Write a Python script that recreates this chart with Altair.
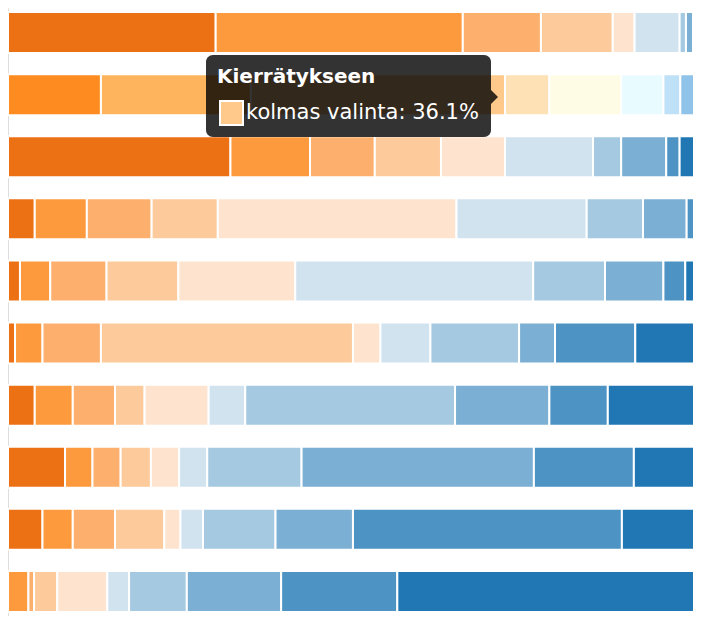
import altair as alt
import pandas as pd

# Row labels (top to bottom); only the hovered row's label is visible in the picture
rows = ["Vaihtoehto 1", "Kierrätykseen", "Vaihtoehto 3", "Vaihtoehto 4", "Vaihtoehto 5",
        "Vaihtoehto 6", "Vaihtoehto 7", "Vaihtoehto 8", "Vaihtoehto 9", "Vaihtoehto 10"]

choices = ["ensimmäinen valinta", "toinen valinta", "kolmas valinta", "neljäs valinta",
           "viides valinta", "kuudes valinta", "seitsemäs valinta", "kahdeksas valinta",
           "yhdeksäs valinta", "kymmenes valinta"]

# share (%) of each choice, per row
row_1 = [29.5, 35.1, 11.1, 10.2, 3.1, 6.4, 0.9, 1.0, 2.0, 0.7]
row_2 = [13.2, 21.3, 36.1, 6.3, 10.2, 6.0, 2.4, 2.0, 0.6, 1.9]
row_3 = [31.6, 11.3, 9.2, 9.4, 9.1, 12.5, 4.0, 6.4, 1.9, 4.6]
row_4 = [3.8, 7.4, 9.2, 9.4, 33.9, 18.5, 8.0, 6.2, 3.0, 0.6]
row_5 = [1.7, 4.3, 8.0, 10.2, 16.6, 33.8, 10.2, 8.3, 3.1, 3.8]
row_6 = [1.0, 3.9, 8.3, 35.8, 3.9, 7.1, 12.6, 5.1, 11.4, 10.9]
row_7 = [3.8, 5.4, 6.0, 4.2, 9.1, 5.2, 29.8, 13.4, 8.3, 14.8]
row_8 = [8.1, 3.9, 4.0, 4.3, 4.0, 4.0, 13.4, 33.0, 14.2, 11.1]
row_9 = [4.9, 4.3, 6.0, 7.0, 2.3, 3.2, 10.3, 11.0, 38.2, 12.8]
row_10 = [0.0, 2.9, 0.8, 3.3, 7.1, 3.1, 8.2, 13.4, 16.5, 44.7]

palette = ["#ec7014", "#fd9a3d", "#fdb06e", "#fdca9b", "#fee4cf",
           "#d2e3f0", "#a6c9e2", "#7bafd3", "#4d93c4", "#2077b4"]
hover_palette = ["#fd8b20", "#fdb45c", "#fec98a", "#fee1b5", "#fffce5",
                 "#e8fbff", "#bfe1f7", "#8fc3e9", "#5fa5da", "#2b80c6"]

hovered_row = "Kierrätykseen"
hovered_choice = "kolmas valinta"
HOVER_SUFFIX = " (aktiivinen)"

all_rows = [row_1, row_2, row_3, row_4, row_5, row_6, row_7, row_8, row_9, row_10]
records = []
for r, vals in zip(rows, all_rows):
    for i, (c, v) in enumerate(zip(choices, vals)):
        if v <= 0:
            continue
        key = c + HOVER_SUFFIX if r == hovered_row else c
        records.append({"rivi": r, "valinta": c, "jarjestys": i, "osuus": v, "vari": key})
df = pd.DataFrame(records)

color_domain = choices + [c + HOVER_SUFFIX for c in choices]
color_range = palette + hover_palette

W, H = 685, 608

bars = alt.Chart(df).mark_bar(stroke="white", strokeWidth=2, clip=True).encode(
    x=alt.X("osuus:Q", stack="zero",
            scale=alt.Scale(domain=[0, 97.3], nice=False, zero=True), axis=None),
    y=alt.Y("rivi:N", sort=rows,
            scale=alt.Scale(paddingInner=0.34, paddingOuter=0.065),
            axis=alt.Axis(labels=False, ticks=False, title=None, grid=False,
                          domainColor="#dddddd")),
    color=alt.Color("vari:N", scale=alt.Scale(domain=color_domain, range=color_range),
                    legend=None),
    order=alt.Order("jarjestys:Q"),
)

# tooltip annotation for the hovered segment
hv = all_rows[rows.index(hovered_row)][choices.index(hovered_choice)]
tip_df = pd.DataFrame([{
    "otsikko": hovered_row,
    "teksti": f"{hovered_choice}: {hv}%",
}])
swatch_color = hover_palette[choices.index(hovered_choice)]

tip_box = alt.Chart(tip_df).mark_rect(fill="black", opacity=0.8, cornerRadius=7).encode(
    x=alt.value(198), x2=alt.value(483), y=alt.value(47), y2=alt.value(129)
)
caret = alt.Chart(tip_df).mark_point(
    shape="M0,-1L1,0L0,1Z", filled=True, fill="black", opacity=0.8, size=196, strokeWidth=0
).encode(x=alt.value(483), y=alt.value(89))
tip_title = alt.Chart(tip_df).mark_text(
    align="left", baseline="alphabetic", color="white", font="DejaVu Sans",
    fontWeight="bold", fontSize=20
).encode(x=alt.value(209), y=alt.value(75), text="otsikko:N")
swatch = alt.Chart(tip_df).mark_rect(fill=swatch_color, stroke="white", strokeWidth=2).encode(
    x=alt.value(212), x2=alt.value(235), y=alt.value(93), y2=alt.value(117)
)
tip_text = alt.Chart(tip_df).mark_text(
    align="left", baseline="alphabetic", color="white", font="DejaVu Sans", fontSize=21
).encode(x=alt.value(238), y=alt.value(111), text="teksti:N")

chart = alt.layer(bars, tip_box, caret, tip_title, swatch, tip_text).properties(
    width=W, height=H, padding=0
).configure_view(stroke=None)

chart.save("out.html", embed_options={"renderer": "svg", "actions": False})
